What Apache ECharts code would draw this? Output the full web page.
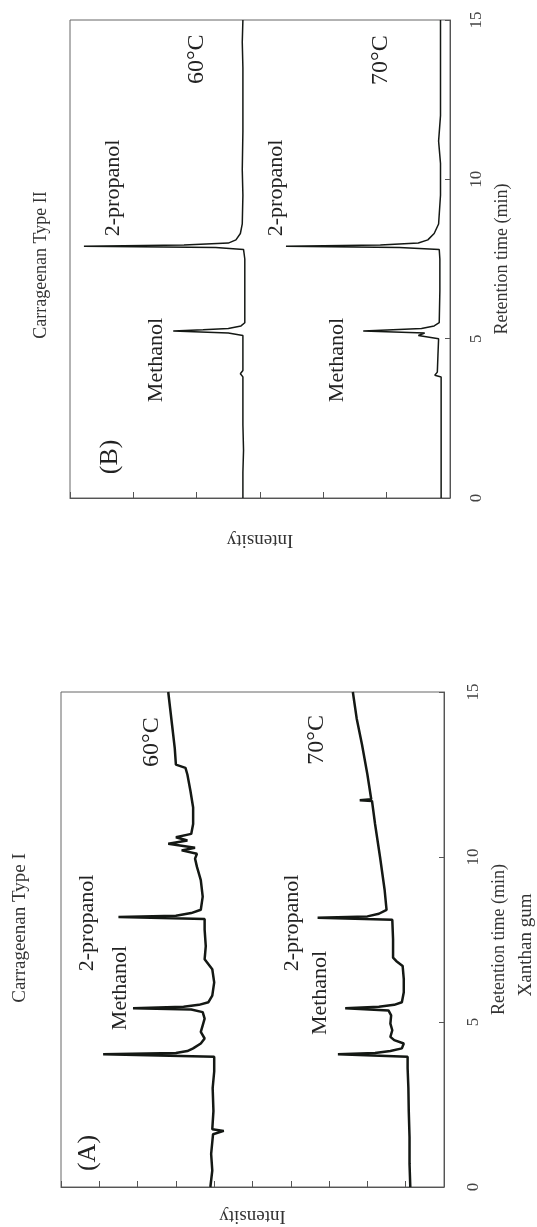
<!DOCTYPE html>
<html>
<head>
<meta charset="utf-8">
<script src="https://cdn.jsdelivr.net/npm/echarts@6/dist/echarts.min.js"></script>
<style>
html,body{margin:0;padding:0;background:#fff;}
#c{width:537px;height:1227px;}
</style>
</head>
<body>
<div id="c"></div>
<script>
// ---------------- DATA ----------------
// Panel (B) Carrageenan Type II : retention time (min) and intensity (arb.)
const b60Time = [0, 0.8, 1.5, 2.3, 3.0, 3.8, 3.9, 4.0, 4.6, 5.1, 5.18, 5.24, 5.28, 5.32, 5.4, 5.5, 6.5, 7.5, 7.8, 7.86, 7.9, 7.94, 8.0, 8.1, 8.3, 8.6, 9.5, 10.3, 11.5, 12.5, 13.5, 14.3, 15];
const b60Int  = [3.27, 3.27, 3.26, 3.27, 3.27, 3.27, 3.31, 3.27, 3.27, 3.27, 3.5, 4.37, 3.9, 3.5, 3.3, 3.24, 3.24, 3.24, 3.26, 3.7, 5.78, 4.2, 3.5, 3.38, 3.31, 3.28, 3.27, 3.28, 3.27, 3.27, 3.27, 3.28, 3.27];
const b70Time = [0, 1.5, 3.0, 3.8, 3.85, 3.95, 4.5, 5.0, 5.1, 5.18, 5.24, 5.28, 5.32, 5.4, 5.5, 6.5, 7.5, 7.8, 7.86, 7.9, 7.94, 8.0, 8.1, 8.3, 8.6, 9.5, 10.5, 11.2, 12, 13.5, 15];
const b70Int  = [0.14, 0.14, 0.14, 0.14, 0.24, 0.2, 0.19, 0.18, 0.5, 0.4, 1.37, 0.9, 0.45, 0.25, 0.17, 0.16, 0.16, 0.17, 0.8, 2.59, 1.1, 0.5, 0.35, 0.25, 0.18, 0.15, 0.15, 0.18, 0.15, 0.15, 0.15];

// Panel (A) Carrageenan Type I / Xanthan gum
const a60Time = [0, 0.5, 1.0, 1.6, 1.7, 1.75, 2.3, 3.0, 3.5, 3.95, 4.02, 4.06, 4.12, 4.2, 4.35, 4.5, 4.7, 4.9, 5.1, 5.3, 5.38, 5.42, 5.46, 5.52, 5.6, 5.8, 6.2, 6.6, 6.75, 6.9, 7.3, 7.8, 8.12, 8.18, 8.22, 8.3, 8.4, 8.8, 9.3, 9.7, 9.95, 10.1, 10.2, 10.28, 10.4, 10.5, 10.6, 10.7, 11.0, 11.5, 12.0, 12.5, 12.7, 12.8, 13.3, 14.0, 14.5, 15];
const a60Int  = [6.10, 6.05, 6.08, 6.03, 5.75, 6.05, 6.02, 6.04, 6.0, 6.0, 8.9, 7.0, 6.7, 6.55, 6.35, 6.25, 6.35, 6.3, 6.25, 6.3, 6.6, 8.12, 6.8, 6.4, 6.15, 6.05, 6.0, 6.05, 6.15, 6.25, 6.22, 6.25, 6.25, 8.5, 7.0, 6.6, 6.35, 6.3, 6.35, 6.45, 6.5, 6.45, 6.85, 6.5, 7.2, 6.7, 7.0, 6.6, 6.55, 6.55, 6.62, 6.7, 6.75, 7.0, 7.03, 7.1, 7.15, 7.2];
const a70Time = [0, 0.7, 1.5, 2.3, 3.0, 3.6, 3.95, 4.02, 4.06, 4.12, 4.2, 4.35, 4.45, 4.55, 4.75, 4.95, 5.2, 5.35, 5.42, 5.46, 5.52, 5.6, 5.9, 6.3, 6.7, 6.85, 6.95, 7.5, 8.1, 8.16, 8.2, 8.28, 8.4, 9.0, 10.0, 11.0, 11.7, 11.72, 11.75, 12.5, 13.4, 14.2, 15];
const a70Int  = [0.88, 0.9, 0.9, 0.92, 0.93, 0.95, 0.95, 2.77, 1.8, 1.4, 1.1, 1.05, 1.3, 1.4, 1.35, 1.4, 1.38, 1.45, 2.58, 1.7, 1.3, 1.1, 1.05, 1.05, 1.08, 1.25, 1.33, 1.33, 1.35, 3.3, 2.0, 1.7, 1.5, 1.55, 1.67, 1.8, 1.88, 2.2, 1.9, 2.0, 2.14, 2.28, 2.38];

const timeTicks = [0, 5, 10, 15];
const titles = ['Carrageenan Type II', 'Carrageenan Type I', 'Xanthan gum'];
const peakNames = ['Methanol', '2-propanol'];
const tempNames = ['60°C', '70°C'];
const panelNames = ['(B)', '(A)'];

// ---------------- CHART ----------------
const FONT = '"Liberation Serif", "DejaVu Serif", serif';
const chart = echarts.init(document.getElementById('c'), null, {renderer: 'canvas'});

function zip(ts, vs) { return ts.map((t, i) => [vs[i], t]); }

function xAx(grid, max, gap) {
  return {
    gridIndex: grid, type: 'value', min: 0, max: max, interval: 1, inverse: true,
    axisLine: {show: true, lineStyle: {color: '#555', width: 1}},
    axisTick: {show: true, inside: true, length: 6, lineStyle: {color: '#555'}},
    axisLabel: {show: false}, splitLine: {show: false},
    name: 'Intensity', nameLocation: 'middle', nameGap: gap, nameRotate: 180,
    nameTextStyle: {fontFamily: FONT, fontSize: 19, color: '#333'}
  };
}
function yAx(grid, gap, margin) {
  return {
    gridIndex: grid, type: 'value', position: 'right', min: timeTicks[0], max: timeTicks[timeTicks.length - 1], interval: 5,
    axisLine: {show: true, lineStyle: {color: '#555', width: 1}},
    axisTick: {show: true, inside: true, length: 5, lineStyle: {color: '#555'}},
    axisLabel: {show: true, rotate: 90, margin: margin, fontFamily: FONT, fontSize: 17, color: '#444'},
    splitLine: {show: false},
    name: 'Retention time (min)', nameLocation: 'middle', nameGap: gap, nameRotate: 90,
    nameTextStyle: {fontFamily: FONT, fontSize: 18, color: '#333'}
  };
}
function line(xi, data, w) {
  return {type: 'line', xAxisIndex: xi, yAxisIndex: xi, data: data, symbol: 'none',
          lineStyle: {color: '#141814', width: w}, silent: true};
}

chart.setOption({
  animation: false,
  backgroundColor: '#fff',
  grid: [
    {left: 70, right: 87, top: 20, bottom: 729, show: true, borderColor: '#666', borderWidth: 1},
    {left: 61, right: 93, top: 692, bottom: 40, show: true, borderColor: '#666', borderWidth: 1}
  ],
  xAxis: [xAx(0, 6, 32), xAx(1, 10, 19)],
  yAxis: [yAx(0, 43, 18), yAx(1, 36, 21)],
  series: [
    line(0, zip(b60Time, b60Int), 1.5),
    line(0, zip(b70Time, b70Int), 1.5),
    line(1, zip(a60Time, a60Int), 2.5),
    line(1, zip(a70Time, a70Int), 2.5)
  ]
});

// annotation anchors in data coordinates [intensity, time]
const ann = [
  {g: 0, text: peakNames[0], at: [4.64, 4.33], size: 22},
  {g: 0, text: peakNames[1], at: [5.32, 9.73], size: 22},
  {g: 0, text: tempNames[0], at: [4.0, 13.77], size: 24},
  {g: 0, text: peakNames[0], at: [1.78, 4.33], size: 22},
  {g: 0, text: peakNames[1], at: [2.75, 9.73], size: 22},
  {g: 0, text: tempNames[1], at: [1.1, 13.74], size: 24},
  {g: 0, text: panelNames[0], at: [5.37, 1.29], size: 26},
  {g: 1, text: peakNames[0], at: [8.46, 6.03], size: 22},
  {g: 1, text: peakNames[1], at: [9.32, 8.0], size: 22},
  {g: 1, text: tempNames[0], at: [7.62, 13.48], size: 24},
  {g: 1, text: peakNames[0], at: [3.24, 5.88], size: 22},
  {g: 1, text: peakNames[1], at: [3.97, 8.0], size: 22},
  {g: 1, text: tempNames[1], at: [3.32, 13.55], size: 24},
  {g: 1, text: panelNames[1], at: [9.3, 1.03], size: 26}
];
const graphics = ann.map(a => {
  const p = chart.convertToPixel({xAxisIndex: a.g, yAxisIndex: a.g}, a.at);
  return {type: 'text', x: p[0], y: p[1], rotation: Math.PI / 2,
          style: {text: a.text, align: 'center', verticalAlign: 'middle',
                  font: a.size + 'px ' + FONT, fill: '#222'}};
});
graphics.push(
  {type: 'text', x: 41, y: 265, rotation: Math.PI / 2,
   style: {text: titles[0], align: 'center', verticalAlign: 'middle', font: '18px ' + FONT, fill: '#333'}},
  {type: 'text', x: 20, y: 928, rotation: Math.PI / 2,
   style: {text: titles[1], align: 'center', verticalAlign: 'middle', font: '19px ' + FONT, fill: '#333'}},
  {type: 'text', x: 526, y: 945, rotation: Math.PI / 2,
   style: {text: titles[2], align: 'center', verticalAlign: 'middle', font: '19px ' + FONT, fill: '#333'}}
);
chart.setOption({graphic: graphics});
</script>
</body>
</html>
